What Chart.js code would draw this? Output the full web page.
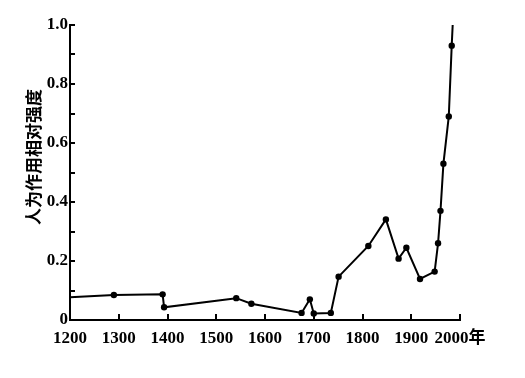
<!DOCTYPE html>
<html lang="zh-CN">
<head>
    <meta charset="UTF-8">
    <title>人为作用相对强度</title>
    <style>
        body {
            margin: 0;
            background-color: #fff;
        }
        .chart-container {
            position: relative;
            width: 525px;
            height: 378px;
        }
    </style>
    <script src="https://cdn.jsdelivr.net/npm/chart.js"></script>
</head>
<body>
    <div class="chart-container">
        <canvas id="chart"></canvas>
    </div>

    <script>
        // dados (ano, intensidade relativa)
        const years = [1200, 1290, 1390, 1393, 1541, 1572, 1675, 1692, 1700, 1735, 1751, 1812, 1848, 1874, 1890, 1918, 1948, 1955, 1960, 1966, 1977, 1983, 1985];
        const values = [0.077, 0.085, 0.087, 0.043, 0.074, 0.055, 0.024, 0.07, 0.022, 0.024, 0.147, 0.251, 0.341, 0.208, 0.245, 0.139, 0.164, 0.26, 0.37, 0.53, 0.69, 0.93, 1.0];
        const yTitle = '人为作用相对强度';
        const xUnit = '年';

        const points = years.map((yr, i) => ({ x: yr, y: values[i] }));
        const tickFont = { family: '"Liberation Serif", "Noto Sans CJK SC", serif', size: 17, weight: 'bold' };

        // ticks voltados para dentro + título do eixo y
        const innerTicks = {
            id: 'innerTicks',
            afterDraw(chart) {
                const ctx = chart.ctx;
                const area = chart.chartArea;
                const xs = chart.scales.x;
                const ys = chart.scales.y;
                ctx.save();
                ctx.strokeStyle = '#000';
                ctx.lineWidth = 2;
                ys.ticks.forEach(t => {
                    const py = Math.round(ys.getPixelForValue(t.value));
                    ctx.beginPath();
                    ctx.moveTo(area.left, py);
                    ctx.lineTo(area.left + 5, py);
                    ctx.stroke();
                });
                xs.ticks.forEach(t => {
                    const px = Math.round(xs.getPixelForValue(t.value));
                    ctx.beginPath();
                    ctx.moveTo(px, area.bottom);
                    ctx.lineTo(px, area.bottom - 6);
                    ctx.stroke();
                });
                ctx.translate(34, 157);
                ctx.rotate(-Math.PI / 2);
                ctx.fillStyle = '#000';
                ctx.font = 'bold 17px "Noto Sans CJK SC"';
                ctx.textAlign = 'center';
                ctx.textBaseline = 'middle';
                ctx.fillText(yTitle, 0, 0);
                ctx.restore();
            }
        };

        new Chart(document.getElementById('chart'), {
            type: 'line',
            data: {
                datasets: [{
                    data: points,
                    borderColor: '#000',
                    borderWidth: 2,
                    backgroundColor: '#000',
                    pointBackgroundColor: '#000',
                    pointBorderWidth: 0,
                    pointRadius: ctx => (ctx.dataIndex === 0 || ctx.dataIndex === points.length - 1) ? 0 : 3.2,
                    tension: 0,
                    fill: false
                }]
            },
            options: {
                responsive: true,
                maintainAspectRatio: false,
                animation: false,
                layout: {
                    padding: { top: 25, right: 65, left: 0, bottom: 18 }
                },
                plugins: {
                    legend: { display: false },
                    tooltip: { enabled: false }
                },
                scales: {
                    x: {
                        type: 'linear',
                        min: 1200,
                        max: 2000,
                        afterFit: scale => { scale.height = 40; },
                        grid: { display: false, drawTicks: false },
                        border: { display: true, color: '#000', width: 2 },
                        ticks: {
                            stepSize: 100,
                            autoSkip: false,
                            padding: 8,
                            color: '#000',
                            font: tickFont,
                            maxRotation: 0,
                            callback: v => v === 2000 ? '2000' + xUnit : String(v)
                        }
                    },
                    y: {
                        min: 0,
                        max: 1.0,
                        afterFit: scale => { scale.width = 70; },
                        grid: { display: false, drawTicks: false },
                        border: { display: true, color: '#000', width: 2 },
                        ticks: {
                            stepSize: 0.1,
                            autoSkip: false,
                            padding: 2,
                            color: '#000',
                            font: tickFont,
                            callback: v => {
                                const n = Math.round(v * 10);
                                if (n % 2 !== 0) return '';
                                return n === 0 ? '0' : (n / 10).toFixed(1);
                            }
                        }
                    }
                }
            },
            plugins: [innerTicks]
        });
    </script>
</body>
</html>
